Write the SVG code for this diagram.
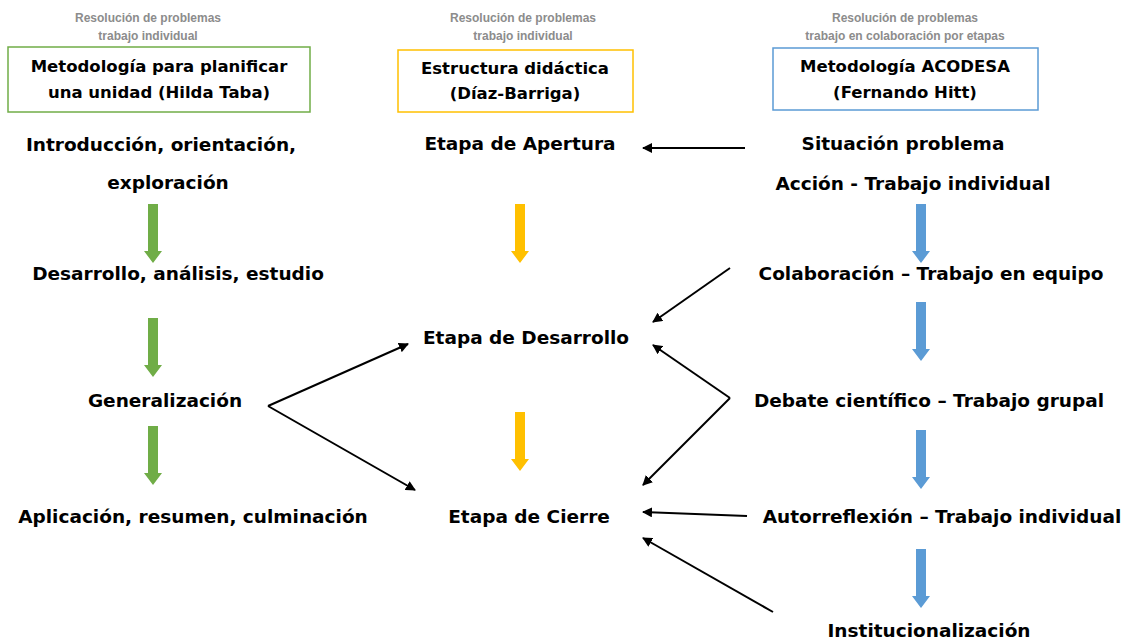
<svg xmlns="http://www.w3.org/2000/svg" width="1122" height="641" viewBox="0 0 1122 641">
<style>
.hdr{font-family:"Liberation Sans",Arial,sans-serif;font-size:12px;font-weight:bold;fill:#8c8c8c;text-anchor:middle}
.box{fill:#fff;stroke-width:1.5}
.bt{font-family:"DejaVu Sans",Verdana,sans-serif;font-size:16.5px;font-weight:bold;fill:#000;text-anchor:middle}
.t{font-family:"DejaVu Sans",Verdana,sans-serif;font-size:18.5px;font-weight:bold;fill:#000;text-anchor:middle}
.con{stroke:#000;stroke-width:2;fill:none;marker-end:url(#ah)}
.g{fill:#70ad47}.y{fill:#ffc000}.b{fill:#5b9bd5}
</style>
<defs>
<marker id="ah" viewBox="0 0 10 10" refX="9" refY="5" markerWidth="5" markerHeight="5" orient="auto" markerUnits="strokeWidth">
<path d="M0,0 L10,5 L0,10 z" fill="#000"/>
</marker>
<path id="da" d="M-5,0 H5 V47 H9 L0,59 L-9,47 H-5 z"/>
</defs>
<rect width="1122" height="641" fill="#fff"/>

<g id="col1-header">
<text class="hdr" x="148" y="22">Resolución de problemas</text>
<text class="hdr" x="148" y="40">trabajo individual</text>
<rect class="box" x="8" y="47" width="302" height="65" stroke="#70ad47"/>
<text class="bt" x="159" y="72">Metodología para planificar</text>
<text class="bt" x="159" y="98">una unidad (Hilda Taba)</text>
</g>
<g id="col2-header">
<text class="hdr" x="523" y="22">Resolución de problemas</text>
<text class="hdr" x="523" y="40">trabajo individual</text>
<rect class="box" x="398" y="50" width="235" height="62" stroke="#ffc000"/>
<text class="bt" x="515" y="74">Estructura didáctica</text>
<text class="bt" x="515" y="99">(Díaz-Barriga)</text>
</g>
<g id="col3-header">
<text class="hdr" x="905" y="22">Resolución de problemas</text>
<text class="hdr" x="905" y="40">trabajo en colaboración por etapas</text>
<rect class="box" x="773" y="48" width="265" height="62" stroke="#5b9bd5"/>
<text class="bt" x="905" y="72">Metodología ACODESA</text>
<text class="bt" x="905" y="98">(Fernando Hitt)</text>
</g>

<g id="n-intro"><text class="t" x="161" y="151">Introducción, orientación,</text><text class="t" x="168" y="189">exploración</text></g>
<g id="n-desarrollo"><text class="t" x="178" y="280">Desarrollo, análisis, estudio</text></g>
<g id="n-generalizacion"><text class="t" x="165" y="407">Generalización</text></g>
<g id="n-aplicacion"><text class="t" x="193" y="523">Aplicación, resumen, culminación</text></g>

<g id="n-apertura"><text class="t" x="520" y="150">Etapa de Apertura</text></g>
<g id="n-etapa-desarrollo"><text class="t" x="526" y="344">Etapa de Desarrollo</text></g>
<g id="n-cierre"><text class="t" x="529" y="523">Etapa de Cierre</text></g>

<g id="n-situacion"><text class="t" x="903" y="150">Situación problema</text></g>
<g id="n-accion"><text class="t" x="913" y="190">Acción - Trabajo individual</text></g>
<g id="n-colaboracion"><text class="t" x="931" y="280">Colaboración – Trabajo en equipo</text></g>
<g id="n-debate"><text class="t" x="929" y="407">Debate científico – Trabajo grupal</text></g>
<g id="n-autorreflexion"><text class="t" x="942" y="523">Autorreflexión – Trabajo individual</text></g>
<g id="n-institucionalizacion"><text class="t" x="929" y="637">Institucionalización</text></g>

<g id="block-arrows">
<use href="#da" class="g" x="153" y="204"/>
<use href="#da" class="g" x="153" y="318"/>
<use href="#da" class="g" x="153" y="426"/>
<use href="#da" class="y" x="520" y="204"/>
<use href="#da" class="y" x="520" y="412"/>
<use href="#da" class="b" x="921" y="204"/>
<use href="#da" class="b" x="921" y="302"/>
<use href="#da" class="b" x="921" y="430"/>
<use href="#da" class="b" x="921" y="549"/>
</g>

<g id="connectors">
<line class="con" x1="745" y1="148" x2="643" y2="148"/>
<line class="con" x1="730" y1="268" x2="653" y2="322"/>
<line class="con" x1="268" y1="406" x2="408" y2="344"/>
<line class="con" x1="268" y1="406" x2="415" y2="490"/>
<line class="con" x1="730" y1="398" x2="653" y2="345"/>
<line class="con" x1="730" y1="398" x2="643" y2="485"/>
<line class="con" x1="747" y1="516" x2="643" y2="512"/>
<line class="con" x1="773" y1="612" x2="643" y2="538"/>
</g>
</svg>
